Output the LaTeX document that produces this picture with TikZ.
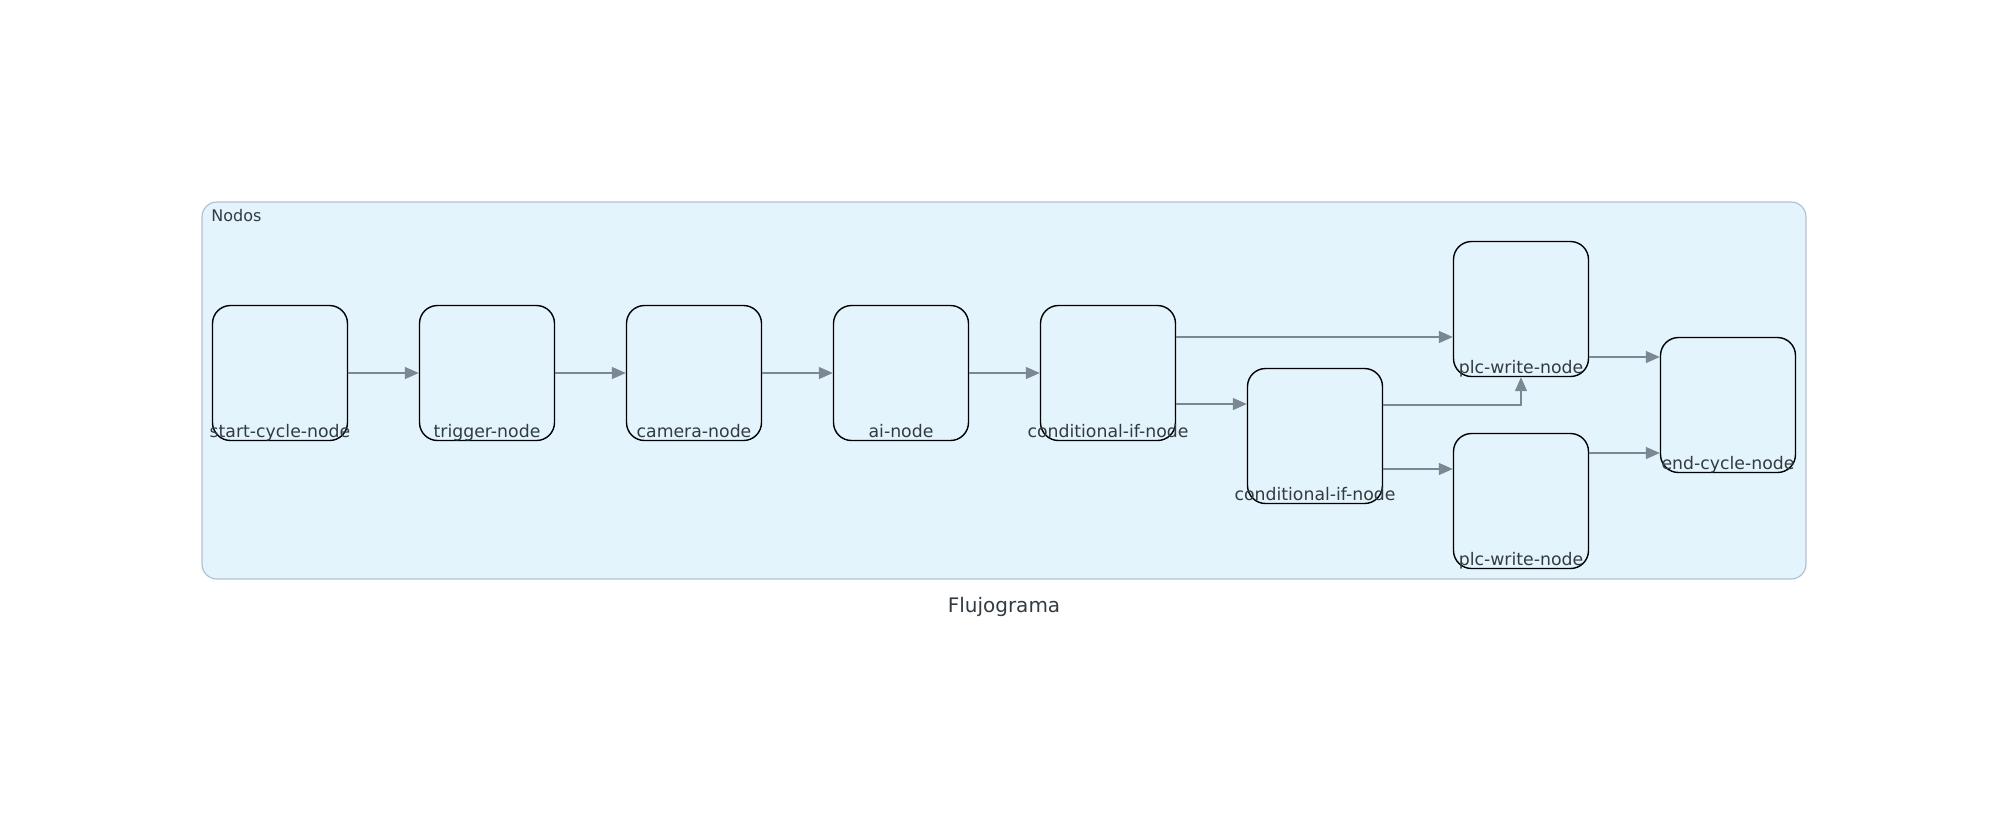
\documentclass[tikz,border=0pt]{standalone}
\usepackage{fontspec}
\setsansfont{DejaVu Sans}
\usetikzlibrary{arrows.meta}
\definecolor{groupfill}{HTML}{E3F4FC}
\definecolor{groupline}{HTML}{B0C2D2}
\definecolor{edgegray}{HTML}{7B8794}
\definecolor{textgray}{HTML}{333B41}
\tikzset{every node/.style={inner sep=0pt,text=textgray}}
\tikzset{box/.style={rectangle,draw=black,line width=0.7pt,rounded corners=9pt,minimum size=67.5pt}}
\tikzset{lbl/.style={anchor=base,yshift=2pt,font=\sffamily\fontsize{8.65}{10}\selectfont}}
\tikzset{group/.style={rectangle,draw=groupline,fill=groupfill,line width=0.6pt,rounded corners=7.5pt,minimum width=802pt,minimum height=188.5pt}}
\tikzset{flow/.style={->,draw=edgegray,line width=0.65pt}}

\begin{document}
\begin{tikzpicture}[x=0.5pt,y=-0.5pt,font=\sffamily,>={Triangle[length=7pt,width=6pt]}]
      \useasboundingbox (0,0) rectangle (2008,816);
      \node[group] (nodos) at (1004,390.5) {};
      \node[anchor=base west,font=\sffamily\fontsize{8}{10}\selectfont] (title) at (211,221) {Nodos};
      \node[box,label={[lbl]south:start-cycle-node}] (start) at (280,373) {};
      \node[box,label={[lbl]south:trigger-node}] (trig) at (487,373) {};
      \node[box,label={[lbl]south:camera-node}] (cam) at (694,373) {};
      \node[box,label={[lbl]south:ai-node}] (ai) at (901,373) {};
      \node[box,label={[lbl]south:conditional-if-node}] (cond1) at (1108,373) {};
      \node[box,label={[lbl]south:conditional-if-node}] (cond2) at (1315,436) {};
      \node[box,label={[lbl]south:plc-write-node}] (plc1) at (1521,309) {};
      \node[box,label={[lbl]south:plc-write-node}] (plc2) at (1521,501) {};
      \node[box,label={[lbl]south:end-cycle-node}] (end) at (1728,405) {};
      \node[anchor=base,font=\sffamily\fontsize{10}{12}\selectfont] (caption) at (1004,612) {Flujograma};
        \draw[flow] (start) -- (trig);
        \draw[flow] (trig) -- (cam);
        \draw[flow] (cam) -- (ai);
        \draw[flow] (ai) -- (cond1);
        \draw[flow] ([yshift=18pt]cond1.east) -- ([yshift=-14pt]plc1.west);
        \draw[flow] ([yshift=-15.5pt]cond1.east) -- ([yshift=16pt]cond2.west);
        \draw[flow] ([yshift=15.5pt]cond2.east) -| (plc1.south);
        \draw[flow] ([yshift=-16.5pt]cond2.east) -- ([yshift=16pt]plc2.west);
        \draw[flow] ([yshift=-24pt]plc1.east) -- ([yshift=24pt]end.west);
        \draw[flow] ([yshift=24pt]plc2.east) -- ([yshift=-24pt]end.west);
    \end{tikzpicture}
\end{document}
